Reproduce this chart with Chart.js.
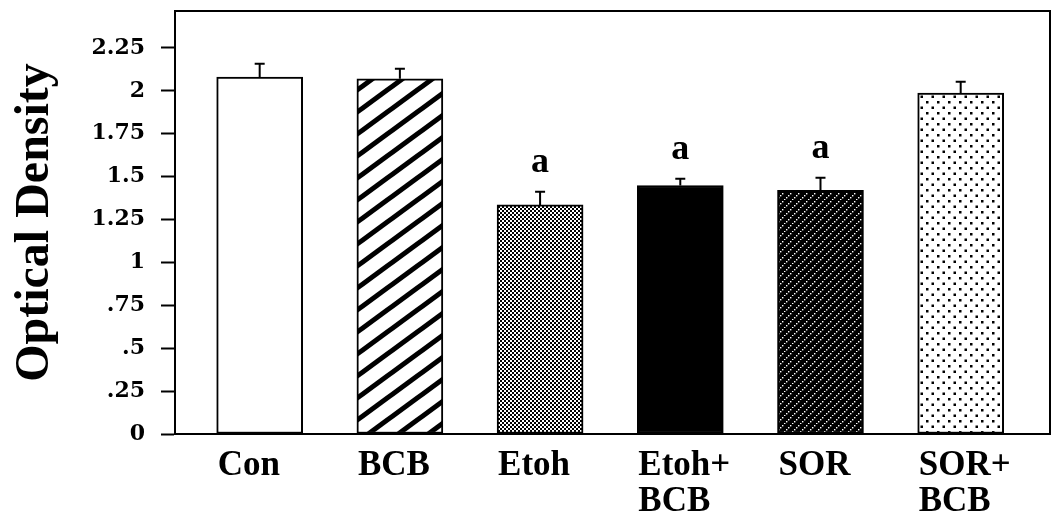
<!DOCTYPE html>
<html>
<head>
<meta charset="utf-8">
<script src="https://cdn.jsdelivr.net/npm/chart.js@4"></script>
<style>
  html, body { margin: 0; padding: 0; background: #fff; }
  #wrap { width: 1051px; height: 515px; position: relative; }
</style>
</head>
<body>
<div id="wrap"><canvas id="c" width="1051" height="515"></canvas></div>
<script>
// ---- data ----
const categories = ['Con', 'BCB', 'Etoh', ['Etoh+', 'BCB'], 'SOR', ['SOR+', 'BCB']];
const meanValues = [2.08, 2.07, 1.335, 1.448, 1.42, 1.987];
const errorValues = [0.077, 0.058, 0.077, 0.04, 0.073, 0.065];
const sigLetters = ['', '', 'a', 'a', 'a', ''];
const yTickValues = [0, 0.25, 0.5, 0.75, 1, 1.25, 1.5, 1.75, 2, 2.25];
const yTickLabels = ['0', '.25', '.5', '.75', '1', '1.25', '1.5', '1.75', '2', '2.25'];

// ---- fill patterns ----
function makeTile(w, h, draw) {
  const c = document.createElement('canvas');
  c.width = w; c.height = h;
  const g = c.getContext('2d');
  draw(g, w, h);
  return document.getElementById('c').getContext('2d').createPattern(c, 'repeat');
}
const patStripes = makeTile(30, 22, (g, w, h) => {
  g.fillStyle = '#fff'; g.fillRect(0, 0, w, h);
  g.strokeStyle = '#000'; g.lineWidth = 5;
  for (let k = -3; k <= 3; k++) {
    const x0 = k * w;
    g.beginPath();
    g.moveTo(x0 - 2 * w, h + 2 * h);
    g.lineTo(x0 + 2 * w, h - 2 * h);
    g.stroke();
  }
});
const patChecker = makeTile(4, 4, (g) => {
  g.fillStyle = '#fff'; g.fillRect(0, 0, 4, 4);
  g.fillStyle = '#000'; g.fillRect(0, 0, 2, 2); g.fillRect(2, 2, 2, 2);
});
const patDarkDiag = makeTile(8, 8, (g) => {
  g.fillStyle = '#000'; g.fillRect(0, 0, 8, 8);
  g.fillStyle = '#fff';
  for (let i = 0; i < 8; i += 2) g.fillRect(i, 7 - i, 1.4, 1.4);
});
const patDots = makeTile(11, 11, (g) => {
  g.fillStyle = '#fff'; g.fillRect(0, 0, 11, 11);
  g.fillStyle = '#000';
  g.fillRect(2, 2, 2.5, 2.5); g.fillRect(7.5, 7.5, 2.5, 2.5);
});
const fills = ['#ffffff', patStripes, patChecker, '#000000', patDarkDiag, patDots];

// ---- plugins ----
const whiteBg = {
  id: 'whiteBg',
  beforeDraw(chart) {
    const ctx = chart.ctx;
    ctx.save(); ctx.fillStyle = '#fff';
    ctx.fillRect(0, 0, chart.width, chart.height); ctx.restore();
  }
};
const errAndFrame = {
  id: 'errAndFrame',
  afterDatasetsDraw(chart) {
    const ctx = chart.ctx;
    const y = chart.scales.y;
    const meta = chart.getDatasetMeta(0);
    ctx.save();
    ctx.strokeStyle = '#000';
    ctx.lineWidth = 2;
    meta.data.forEach((bar, i) => {
      const yb = y.getPixelForValue(meanValues[i]);
      const yt = y.getPixelForValue(meanValues[i] + errorValues[i]);
      ctx.beginPath();
      ctx.moveTo(bar.x, yb); ctx.lineTo(bar.x, yt);
      ctx.moveTo(bar.x - 5, yt); ctx.lineTo(bar.x + 5, yt);
      ctx.stroke();
      if (sigLetters[i]) {
        ctx.fillStyle = '#000';
        ctx.font = 'bold 36px "Liberation Serif"';
        ctx.textAlign = 'center';
        ctx.textBaseline = 'alphabetic';
        ctx.fillText(sigLetters[i], bar.x, yt - 20);
      }
    });
    const a = chart.chartArea;
    ctx.beginPath();
    ctx.moveTo(a.left, a.top); ctx.lineTo(a.right, a.top);
    ctx.lineTo(a.right, a.bottom);
    ctx.stroke();
    ctx.restore();
  }
};

Chart.defaults.color = '#000';
Chart.defaults.font.family = '"Liberation Serif", serif';

new Chart(document.getElementById('c'), {
  type: 'bar',
  data: {
    datasets: [{
      data: meanValues.map((v, i) => ({ x: i, y: v })),
      backgroundColor: fills,
      borderColor: '#000',
      borderWidth: 2,
      borderSkipped: false,
      barThickness: 86
    }]
  },
  options: {
    responsive: false,
    animation: false,
    events: [],
    layout: { padding: { top: 11, right: 1, left: 0, bottom: 0 } },
    plugins: { legend: { display: false }, tooltip: { enabled: false } },
    scales: {
      x: {
        type: 'linear',
        offset: false,
        min: -0.604,
        max: 5.637,
        afterBuildTicks(scale) { scale.ticks = categories.map((c, i) => ({ value: i })); },
        afterFit(scale) {
          scale.height = 81;
          scale.paddingLeft = 0; scale.paddingRight = 0;
        },
        grid: { display: false, offset: false },
        border: { display: true, color: '#000', width: 2 },
        ticks: {
          autoSkip: false,
          maxRotation: 0,
          minRotation: 0,
          align: 'start',
          labelOffset: -42,
          padding: 6,
          font: { size: 35, weight: 'bold', family: '"Liberation Serif"', lineHeight: 1.03 },
          callback: (value) => categories[value]
        }
      },
      y: {
        min: 0,
        max: 2.465,
        afterBuildTicks(scale) { scale.ticks = yTickValues.map(v => ({ value: v })); },
        afterFit(scale) {
          scale.width = 175;
          scale.paddingTop = 0; scale.paddingBottom = 0;
        },
        grid: {
          display: true,
          drawOnChartArea: false,
          drawTicks: true,
          tickLength: 14,
          tickWidth: 2,
          tickColor: '#000',
          color: '#000'
        },
        border: { display: true, color: '#000', width: 2 },
        ticks: {
          padding: 16,
          font: { size: 22, weight: 'bold', family: '"DejaVu Serif"' },
          callback: (value) => yTickLabels[yTickValues.indexOf(value)]
        },
        title: {
          display: true,
          text: 'Optical Density',
          color: '#000',
          padding: { top: 7, bottom: 0 },
          font: { size: 48, weight: 'bold', family: '"Liberation Serif"', lineHeight: 1.2 }
        }
      }
    }
  },
  plugins: [whiteBg, errAndFrame]
});
</script>
</body>
</html>
